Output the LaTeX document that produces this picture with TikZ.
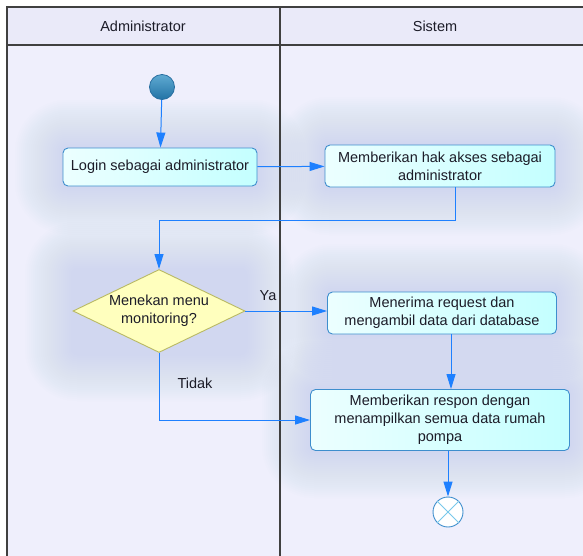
\documentclass[tikz,border=0pt]{standalone}
\usepackage{fontspec}
\setmainfont{Liberation Sans}
\usetikzlibrary{shapes.geometric,arrows.meta,calc}
\definecolor{lanebg}{RGB}{239,239,252}
\definecolor{headbg}{RGB}{234,234,249}
\definecolor{glow}{RGB}{185,200,240}
\definecolor{frameline}{RGB}{64,64,64}
\definecolor{flowblue}{RGB}{30,128,255}
\definecolor{boxline}{RGB}{62,142,205}
\definecolor{boxleft}{RGB}{236,255,255}
\definecolor{boxright}{RGB}{196,255,255}
\definecolor{decfill}{RGB}{255,255,190}
\definecolor{decline}{RGB}{185,185,100}
\definecolor{textc}{RGB}{28,28,40}
\definecolor{crossc}{RGB}{120,200,235}
\tikzset{
  action/.style={draw=boxline, line width=0.9pt, rounded corners=5pt,
    left color=boxleft, right color=boxright, text=textc, align=center,
    font=\fontsize{14.5}{18}\selectfont, inner sep=2pt},
  decision/.style={diamond, draw=decline, line width=0.9pt, fill=decfill,
    text=textc, align=center, font=\fontsize{14.5}{18}\selectfont,
    inner sep=0pt, minimum width=172pt, minimum height=83pt, aspect=2.07},
  flow/.style={draw=flowblue, line width=1pt,
    -{Triangle[length=15pt,width=9pt]}},
  lanetitle/.style={text=textc, font=\fontsize{14.5}{18}\selectfont},
  guard/.style={text=textc, font=\fontsize{14.5}{18}\selectfont},
  glowfill/.style={fill=glow, opacity=0.022}
}
\begin{document}
\begin{tikzpicture}[x=1pt,y=-1pt]
  \useasboundingbox (0,0) rectangle (583,555);
  \begin{scope}
    \clip (0,0) rectangle (583,555);
    % swimlane background
    \fill[lanebg] (7,45) rectangle (600,570);
    \fill[headbg] (7,7) rectangle (600,45);
    % soft halo around the activities
    \foreach \r in {2,4,...,48} {
      \fill[glowfill, rounded corners=\r+4] (63-\r,148-\r) rectangle (257+\r,186+\r);
      \fill[glowfill, rounded corners=\r+4] (325-\r,145-\r) rectangle (555+\r,187+\r);
      \fill[glowfill, rounded corners=\r+4] (73-\r,270-\r) rectangle (245+\r,353+\r);
      \fill[glowfill, rounded corners=\r+4] (328-\r,292-\r) rectangle (557+\r,334+\r);
      \fill[glowfill, rounded corners=\r+4] (310-\r,389-\r) rectangle (569+\r,450+\r);
    }
    % lane frame
    \draw[frameline, line width=1.2pt] (7,560) -- (7,7) -- (600,7);
    \draw[frameline, line width=1.2pt] (7,45) -- (600,45);
    \draw[frameline, line width=1.2pt] (280,7) -- (280,560);
  \end{scope}

  \node[lanetitle] (laneA) at (143,26) {Administrator};
  \node[lanetitle] (laneS) at (435,26) {Sistem};

  % start and end states
  \node[circle, minimum size=25pt, inner sep=0pt, draw={rgb,255:red,40;green,110;blue,160},
        line width=0.8pt, top color={rgb,255:red,95;green,170;blue,210},
        bottom color={rgb,255:red,35;green,115;blue,165}] (start) at (162,87) {};
  \node[circle, minimum size=30pt, inner sep=0pt, draw=boxline, line width=0.9pt,
        fill=white] (stop) at (448,512) {};
  \draw[crossc, line width=1pt] (stop.north west) -- (stop.south east)
                               (stop.north east) -- (stop.south west);

  % activities
  \node[action, minimum width=194pt, minimum height=38pt] (login) at (160,167)
    {Login sebagai administrator};
  \node[action, minimum width=230pt, minimum height=42pt] (hak) at (440,166)
    {Memberikan hak akses sebagai\\administrator};
  \node[decision] (menu) at (159,311) {Menekan menu\\monitoring?};
  \node[action, minimum width=229pt, minimum height=42pt] (req) at (442,313)
    {Menerima request dan\\mengambil data dari database};
  \node[action, minimum width=259pt, minimum height=61pt] (respon) at (440,420)
    {Memberikan respon dengan\\menampilkan semua data rumah\\pompa};

  % control flow
  \coordinate (bend) at (455,220);
  \draw[flow] (start) -- (login);
  \draw[flow] (login) -- (hak);
  \draw[flow] (hak.south -| bend) -- (bend) -| (menu.north);
  \draw[flow] (menu.east) -- (req.west |- menu.east);
  \draw[flow] (req.south -| 451,0) -- (respon.north -| 451,0);
  \draw[flow] (menu.south) |- (respon.west);
  \draw[flow] (respon.south -| stop) -- (stop);

  \node[guard] (ya) at (268,296) {Ya};
  \node[guard] (tidak) at (195,383) {Tidak};
\end{tikzpicture}
\end{document}
